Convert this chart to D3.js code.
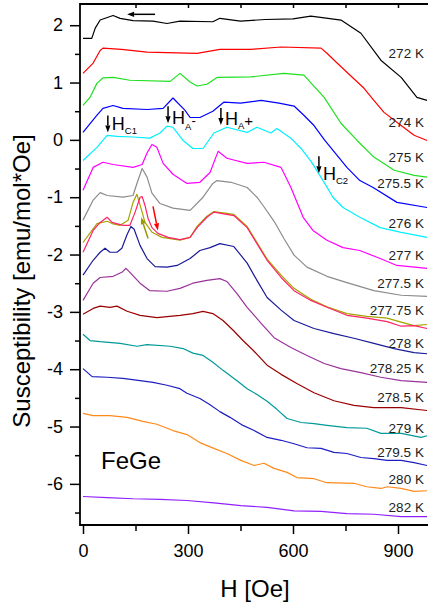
<!DOCTYPE html>
<html lang="en">
<head>
<meta charset="UTF-8">
<title>FeGe susceptibility</title>
<script src="https://d3js.org/d3.v7.min.js"></script>
<style>
  body { margin: 0; background: #fff; }
  svg { display: block; font-family: "Liberation Sans", Arial, Helvetica, sans-serif; }
  .curve { fill: none; stroke-width: 1.2px; stroke-linejoin: round; }
  .temp-label { font-size: 13.5px; fill: #222; }
  .axis-line { stroke: #000; stroke-width: 1.8px; }
</style>
</head>
<body>
<svg id="chart" width="428" height="602"></svg>
<script>
// curves: [H (Oe), susceptibility offset]
const s272 = [[0,1.77],[25,1.77],[35,1.95],[49,2.09],[86,2.17],[106,2.12],[143,2.08],[200,2.07],[240,2.03],[277,2.07],[371,2.06],[391,2.12],[450,2.07],[520,2.10],[600,2.11],[651,2.16],[700,2.12],[737,2.09],[794,1.86],[851,1.39],[909,1.09],[954,0.74],[983,0.69]];
const s274 = [[0,1.16],[29,1.34],[49,1.56],[57,1.60],[110,1.58],[183,1.53],[326,1.51],[391,1.58],[480,1.58],[566,1.62],[680,1.60],[697,1.51],[726,1.34],[754,1.18],[803,0.90],[831,0.69],[860,0.48],[909,0.25],[946,0.08],[983,-0.01]];
const s275 = [[0,0.60],[20,0.74],[40,0.99],[57,1.08],[86,1.09],[134,1.04],[249,1.02],[277,1.16],[306,1.01],[326,0.94],[354,0.97],[383,1.09],[480,1.10],[574,1.16],[631,1.13],[689,0.74],[737,0.29],[783,-0.01],[831,-0.30],[889,-0.53],[946,-0.62],[983,-0.65]];
const s2755 = [[0,0.13],[40,0.43],[57,0.55],[86,0.60],[114,0.55],[183,0.53],[229,0.55],[257,0.73],[291,0.52],[306,0.39],[334,0.39],[371,0.50],[403,0.66],[450,0.64],[509,0.69],[560,0.64],[603,0.59],[631,0.43],[660,0.25],[691,-0.01],[754,-0.48],[791,-0.71],[829,-0.83],[897,-1.09],[983,-1.18]];
const s276 = [[0,-0.36],[40,-0.13],[69,0.08],[97,0.06],[143,0.05],[191,0.03],[220,0.12],[240,0.24],[257,0.22],[286,-0.01],[314,-0.15],[343,-0.15],[374,0.12],[411,0.22],[469,0.13],[497,0.22],[537,0.12],[554,0.20],[594,0.03],[623,-0.15],[651,-0.37],[686,-0.71],[714,-1.00],[743,-1.18],[791,-1.35],[849,-1.53],[906,-1.61],[983,-1.70]];
const s277 = [[0,-0.88],[29,-0.48],[57,-0.39],[86,-0.43],[143,-0.48],[169,-0.43],[183,-0.23],[197,-0.08],[211,-0.13],[229,-0.41],[257,-0.60],[297,-0.76],[334,-0.74],[363,-0.57],[386,-0.20],[411,-0.32],[469,-0.41],[517,-0.39],[566,-0.48],[594,-0.83],[629,-1.35],[657,-1.58],[697,-1.75],[743,-1.88],[791,-1.93],[849,-2.07],[897,-2.19],[983,-2.24]];
const s2775 = [[0,-1.40],[29,-1.05],[49,-0.92],[69,-0.97],[114,-1.00],[143,-0.97],[154,-0.76],[169,-0.50],[183,-0.65],[197,-0.93],[220,-1.11],[257,-1.19],[306,-1.23],[343,-1.00],[371,-0.76],[383,-0.71],[423,-0.74],[469,-0.83],[497,-1.00],[514,-1.14],[546,-1.42],[574,-1.72],[603,-2.01],[640,-2.22],[697,-2.38],[754,-2.49],[831,-2.63],[909,-2.71],[983,-2.73]];
const s27775a = [[0,-1.79],[40,-1.46],[69,-1.42],[83,-1.46],[106,-1.49],[129,-1.40],[143,-1.09],[154,-0.95],[169,-1.26],[177,-1.44],[197,-1.61],[226,-1.70],[277,-1.75],[306,-1.70],[326,-1.51],[354,-1.33],[374,-1.25],[431,-1.30],[469,-1.51],[497,-1.79],[526,-2.08],[566,-2.36],[603,-2.59],[651,-2.78],[697,-2.91],[754,-3.03],[811,-3.08],[869,-3.11],[909,-3.18],[946,-3.24],[983,-3.22]];
const s27775b = [[0,-1.96],[29,-1.58],[49,-1.44],[69,-1.35],[83,-1.44],[114,-1.49],[134,-1.49],[149,-1.26],[163,-1.00],[169,-0.99],[177,-1.14],[186,-1.37],[197,-1.53],[214,-1.63],[243,-1.70],[277,-1.74],[306,-1.70],[326,-1.53],[354,-1.35],[374,-1.26],[431,-1.32],[469,-1.53],[497,-1.81],[526,-2.10],[566,-2.40],[603,-2.63],[651,-2.80],[697,-2.92],[754,-3.06],[811,-3.11],[869,-3.17],[909,-3.25],[946,-3.24],[983,-3.29]];
const s278 = [[0,-2.36],[29,-2.10],[49,-1.96],[63,-1.89],[77,-1.96],[97,-1.96],[111,-1.89],[126,-1.65],[137,-1.51],[146,-1.56],[163,-1.84],[183,-2.07],[206,-2.21],[240,-2.22],[269,-2.19],[306,-2.07],[334,-1.93],[363,-1.88],[391,-1.81],[431,-1.86],[469,-2.15],[497,-2.45],[526,-2.75],[566,-2.97],[603,-3.15],[660,-3.29],[717,-3.38],[774,-3.46],[831,-3.55],[889,-3.64],[946,-3.71],[983,-3.73]];
const s27825 = [[0,-2.80],[29,-2.50],[49,-2.40],[86,-2.38],[111,-2.31],[123,-2.24],[134,-2.31],[163,-2.50],[191,-2.63],[240,-2.64],[277,-2.59],[314,-2.50],[354,-2.45],[391,-2.42],[411,-2.47],[440,-2.68],[469,-2.92],[509,-3.20],[546,-3.45],[594,-3.62],[640,-3.76],[689,-3.90],[737,-3.99],[794,-4.06],[851,-4.14],[909,-4.20],[983,-4.23]];
const s2785 = [[0,-3.04],[29,-2.94],[49,-2.90],[77,-2.92],[97,-2.90],[126,-2.99],[163,-3.06],[211,-3.10],[277,-3.06],[314,-3.03],[343,-2.99],[371,-3.03],[400,-3.15],[429,-3.32],[457,-3.50],[486,-3.67],[526,-3.93],[566,-4.09],[611,-4.25],[660,-4.41],[717,-4.55],[774,-4.63],[831,-4.67],[909,-4.67],[983,-4.72]];
const s279 = [[0,-3.39],[20,-3.50],[49,-3.52],[106,-3.55],[154,-3.60],[183,-3.57],[249,-3.60],[286,-3.64],[314,-3.72],[343,-3.76],[371,-3.88],[400,-4.02],[440,-4.20],[469,-4.34],[497,-4.44],[526,-4.56],[554,-4.70],[583,-4.86],[623,-4.93],[660,-4.95],[697,-4.98],[754,-5.02],[811,-5.03],[851,-5.12],[909,-5.12],[966,-5.19],[983,-5.16]];
const s2795 = [[0,-3.99],[26,-4.13],[69,-4.14],[114,-4.16],[163,-4.20],[200,-4.23],[240,-4.28],[277,-4.34],[297,-4.42],[334,-4.51],[363,-4.62],[391,-4.74],[420,-4.84],[457,-4.98],[489,-5.07],[526,-5.19],[566,-5.24],[603,-5.30],[640,-5.37],[680,-5.38],[717,-5.45],[754,-5.47],[794,-5.54],[831,-5.56],[869,-5.59],[909,-5.59],[946,-5.63],[983,-5.68]];
const s280 = [[0,-4.77],[29,-4.81],[77,-4.81],[126,-4.84],[171,-4.91],[211,-4.96],[257,-5.07],[297,-5.14],[334,-5.28],[374,-5.38],[411,-5.47],[451,-5.59],[489,-5.68],[517,-5.64],[546,-5.73],[583,-5.80],[611,-5.89],[660,-5.91],[697,-5.98],[774,-5.99],[811,-6.05],[851,-6.08],[869,-6.05],[909,-6.08],[946,-6.13],[983,-6.12]];
const s282 = [[0,-6.22],[69,-6.24],[143,-6.26],[220,-6.27],[297,-6.29],[374,-6.33],[451,-6.38],[526,-6.41],[603,-6.47],[680,-6.48],[754,-6.52],[831,-6.53],[909,-6.57],[983,-6.57]];

const series = [s272, s274, s275, s2755, s276, s277, s2775, s27775a, s27775b, s278, s27825, s2785, s279, s2795, s280, s282];
const colors = ["#000000", "#ff0000", "#1fe01f", "#0000ff", "#00f0ff", "#ff00ff", "#8c8c8c", "#a3a300", "#ff2266",
                "#1a1a99", "#993399", "#990000", "#009999", "#1e1ec0", "#ff8a1a", "#9020ff"];

const labelTemps = ["272 K", "274 K", "275 K", "275.5 K", "276 K", "277 K", "277.5 K", "277.75 K",
                    "278 K", "278.25 K", "278.5 K", "279 K", "279.5 K", "280 K", "282 K"];
const labelChi = [1.51, 0.31, -0.30, -0.76, -1.46, -2.01, -2.50, -2.97, -3.55, -3.99, -4.49, -5.02, -5.44, -5.92, -6.41];

const xMajor = [0, 300, 600, 900];
const xMinor = [150, 450, 750];
const yMajor = d3.range(-6, 3, 1);
const yMinor = d3.range(-6.5, 2, 1);

// critical field markers: arrow x (H), arrow tip (chi)
const markers = [
    { H: 71,  tip: 0.13,  sub: "C1", sup: "",  textDy: -2 },
    { H: 243, tip: 0.29,  sub: "A",  sup: "-", textDy: 1 },
    { H: 394, tip: 0.26,  sub: "A",  sup: "+", textDy: 0 },
    { H: 674, tip: -0.58, sub: "C2", sup: "",  textDy: 7 }
];

const svg = d3.select("#chart");
const x = d3.scaleLinear().domain([0, 1000]).range([83, 433]);
const y = d3.scaleLinear().domain([2.37, -6.7]).range([4, 524]);

const line = d3.line().x(d => x(d[0])).y(d => y(d[1]));

series.forEach((s, i) => {
    svg.append("path")
        .attr("class", "curve")
        .attr("stroke", colors[i])
        .attr("d", line(s));
});

labelTemps.forEach((t, i) => {
    svg.append("text")
        .attr("class", "temp-label")
        .attr("x", x(974))
        .attr("y", y(labelChi[i]))
        .attr("dy", "0.36em")
        .attr("text-anchor", "end")
        .text(t);
});

// arrows
function arrow(x1, y1, x2, y2, color) {
    const a = Math.atan2(y2 - y1, x2 - x1);
    const L = 7, w = 2.6;
    const bx = x2 - L * Math.cos(a), by = y2 - L * Math.sin(a);
    svg.append("line")
        .attr("x1", x1).attr("y1", y1).attr("x2", bx).attr("y2", by)
        .attr("stroke", color).attr("stroke-width", 1.5);
    svg.append("path")
        .attr("d", `M${x2},${y2}L${bx - w * Math.sin(a)},${by + w * Math.cos(a)}L${bx + w * Math.sin(a)},${by - w * Math.cos(a)}Z`)
        .attr("fill", color);
}

markers.forEach(m => {
    const ax = x(m.H), ty = y(m.tip);
    arrow(ax, ty - 17, ax, ty, "#000");
    const t = svg.append("text")
        .attr("x", ax + 4)
        .attr("y", ty + m.textDy)
        .attr("font-size", 18)
        .text("H");
    t.append("tspan").attr("dy", m.sup === "-" ? 6 : 4).attr("font-size", 9.5).text(m.sub);
    if (m.sup === "-") t.append("tspan").attr("dy", -5).attr("font-size", 13).text("-");
    if (m.sup === "+") t.append("tspan").attr("dy", -3).attr("font-size", 15).text("+");
});

arrow(x(206), y(2.19), x(126), y(2.19), "#000");
arrow(x(200), y(-1.16), x(214), y(-1.58), "#ff0000");
arrow(x(186), y(-1.72), x(166), y(-1.35), "#999900");

// axes
function styleAxis(g) {
    g.select(".domain").remove();
    g.selectAll(".tick line").attr("stroke", "#000").attr("stroke-width", 1.5);
    g.selectAll(".tick text").attr("font-size", 18).attr("fill", "#000")
        .attr("font-family", "'Liberation Sans', Arial, Helvetica, sans-serif");
}

svg.append("g").attr("transform", "translate(0,525)")
    .call(d3.axisBottom(x).tickValues(xMajor).tickSize(9).tickPadding(10).tickFormat(d => String(d)))
    .call(styleAxis);
svg.append("g").attr("transform", "translate(0,525)")
    .call(d3.axisBottom(x).tickValues(xMinor).tickSize(6).tickFormat(""))
    .call(styleAxis);
svg.append("g").attr("transform", "translate(0,4)")
    .call(d3.axisBottom(x).tickValues(xMajor.concat(xMinor).filter(d => d > 0)).tickSize(4).tickFormat(""))
    .call(styleAxis);

svg.append("g").attr("transform", "translate(80,0)")
    .call(d3.axisLeft(y).tickValues(yMajor).tickSize(10).tickPadding(7).tickFormat(d => String(d)))
    .call(styleAxis);
svg.append("g").attr("transform", "translate(80,0)")
    .call(d3.axisLeft(y).tickValues(yMinor).tickSize(5).tickFormat(""))
    .call(styleAxis);

svg.append("line").attr("class", "axis-line").attr("x1", 80).attr("x2", 428).attr("y1", 525).attr("y2", 525);
svg.append("line").attr("class", "axis-line").attr("x1", 80).attr("x2", 80).attr("y1", 3).attr("y2", 526);
svg.append("line").attr("class", "axis-line").attr("x1", 80).attr("x2", 428).attr("y1", 4).attr("y2", 4);

svg.append("text")
    .attr("transform", "translate(30,281) rotate(-90)")
    .attr("text-anchor", "middle")
    .attr("font-size", 24)
    .text("Susceptibility [emu/mol*Oe]");

svg.append("text")
    .attr("x", 255)
    .attr("y", 597)
    .attr("text-anchor", "middle")
    .attr("font-size", 24)
    .text("H [Oe]");

svg.append("text")
    .attr("x", 101)
    .attr("y", 469)
    .attr("font-size", 24)
    .text("FeGe");
</script>
</body>
</html>
